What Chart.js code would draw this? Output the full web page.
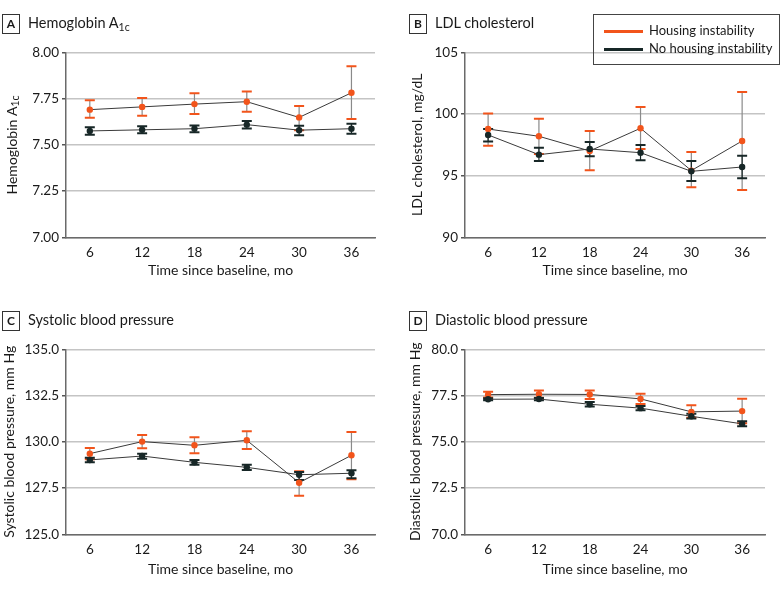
<!DOCTYPE html>
<html>
<head>
<meta charset="utf-8">
<script src="https://cdn.jsdelivr.net/npm/chart.js@4.4.1/dist/chart.umd.min.js"></script>
<style>
    html, body { margin: 0; padding: 0; background: #fff; }
    body { width: 780px; height: 589px; position: relative; overflow: hidden; font-family: Lato, sans-serif; color: #1a1a1a; }
    .panel { position: absolute; }
    .head { position: absolute; font-size: 14.5px; line-height: 20px; white-space: nowrap; }
    .head .tag { display: inline-block; width: 16px; height: 18px; border: 1px solid #333; font-weight: bold; font-size: 12px; line-height: 18px; text-align: center; margin-right: 8px; vertical-align: middle; }
    .head sub { font-size: 10.5px; vertical-align: -3px; line-height: 0; }
    #legend { position: absolute; left: 593px; top: 14px; width: 185px; height: 49px; border: 1px solid #444; font-size: 13px; }
    #legend .row { position: absolute; left: 10px; height: 18px; line-height: 18px; white-space: nowrap; }
    #legend .swatch { display: inline-block; width: 39px; height: 2.5px; vertical-align: middle; margin-right: 6px; }
</style>
</head>
<body>

<canvas id="chartA" class="panel" style="left:0;top:0"></canvas>
<canvas id="chartB" class="panel" style="left:390px;top:0"></canvas>
<canvas id="chartC" class="panel" style="left:0;top:290px"></canvas>
<canvas id="chartD" class="panel" style="left:390px;top:290px"></canvas>

<div class="head" style="left:2px;top:13px"><span class="tag">A</span>Hemoglobin A<sub>1c</sub></div>
<div class="head" style="left:409px;top:13px"><span class="tag">B</span>LDL cholesterol</div>
<div class="head" style="left:2px;top:310px"><span class="tag">C</span>Systolic blood pressure</div>
<div class="head" style="left:409px;top:310px"><span class="tag">D</span>Diastolic blood pressure</div>

<div id="legend">
    <div class="row" style="top:6px"><span class="swatch" style="background:#F2541B"></span>Housing instability</div>
    <div class="row" style="top:24px"><span class="swatch" style="background:#172727"></span>No housing instability</div>
</div>

<script>
// Follow-up times (x axis)
const months = [6, 12, 18, 24, 30, 36];

// A - Hemoglobin A1c (mean, lower and upper limits)
const hbaHousing   = [7.69, 7.705, 7.72, 7.733, 7.648, 7.781];
const hbaHousingLo = [7.646, 7.657, 7.667, 7.679, 7.578, 7.64];
const hbaHousingHi = [7.741, 7.753, 7.779, 7.788, 7.71, 7.925];
const hbaStable    = [7.575, 7.581, 7.587, 7.609, 7.579, 7.587];
const hbaStableLo  = [7.555, 7.563, 7.568, 7.588, 7.552, 7.56];
const hbaStableHi  = [7.595, 7.6, 7.605, 7.629, 7.603, 7.614];

// B - LDL cholesterol
const ldlHousing   = [98.78, 98.19, 97.0, 98.84, 95.41, 97.81];
const ldlHousingLo = [97.43, 96.76, 95.43, 97.16, 94.05, 93.84];
const ldlHousingHi = [100.03, 99.62, 98.62, 100.57, 96.92, 101.78];
const ldlStable    = [98.3, 96.7, 97.16, 96.86, 95.35, 95.7];
const ldlStableLo  = [97.76, 96.19, 96.57, 96.24, 94.57, 94.78];
const ldlStableHi  = [98.78, 97.27, 97.73, 97.49, 96.19, 96.62];

// C - Systolic blood pressure
const sbpHousing   = [129.36, 130.01, 129.81, 130.08, 127.79, 129.27];
const sbpHousingLo = [129.06, 129.65, 129.38, 129.61, 127.09, 127.97];
const sbpHousingHi = [129.66, 130.37, 130.24, 130.57, 128.41, 130.53];
const sbpStable    = [129.02, 129.23, 128.89, 128.62, 128.22, 128.3];
const sbpStableLo  = [128.89, 129.09, 128.76, 128.47, 127.94, 128.03];
const sbpStableHi  = [129.14, 129.36, 129.02, 128.76, 128.37, 128.46];

// D - Diastolic blood pressure
const dbpHousing   = [77.55, 77.57, 77.56, 77.32, 76.62, 76.66];
const dbpHousingLo = [77.39, 77.38, 77.31, 77.04, 76.3, 76.0];
const dbpHousingHi = [77.71, 77.77, 77.77, 77.6, 76.98, 77.33];
const dbpStable    = [77.3, 77.31, 77.03, 76.82, 76.38, 75.97];
const dbpStableLo  = [77.24, 77.25, 76.91, 76.7, 76.26, 75.84];
const dbpStableHi  = [77.36, 77.37, 77.15, 76.94, 76.52, 76.11];

const ORANGE = '#F2541B';
const DARK = '#172727';
const FONT = 'Lato, sans-serif';

/**
 * Draws the vertical CI stems and caps behind the lines and points.
 */
const errorBars = {
    id: 'errorBars',
    beforeDatasetsDraw(chart)
    {
        const ctx = chart.ctx;
        const xs = chart.scales.x, ys = chart.scales.y;
        // highest order first so the dark series ends up on top
        const sets = chart.data.datasets.slice().sort((a, b) => b.order - a.order);
        sets.forEach(ds =>
        {
            ctx.save();
            ds.data.forEach((p, i) =>
            {
                const px = xs.getPixelForValue(p.x);
                const top = ys.getPixelForValue(ds.errHi[i]);
                const bot = ys.getPixelForValue(ds.errLo[i]);
                ctx.strokeStyle = ds.stemColor;
                ctx.lineWidth = 1.2;
                ctx.beginPath();
                ctx.moveTo(px, top);
                ctx.lineTo(px, bot);
                ctx.stroke();
                ctx.strokeStyle = ds.pointBackgroundColor;
                ctx.lineWidth = 2;
                ctx.beginPath();
                ctx.moveTo(px - 5, top); ctx.lineTo(px + 5, top);
                ctx.moveTo(px - 5, bot); ctx.lineTo(px + 5, bot);
                ctx.stroke();
            });
            ctx.restore();
        });
    }
};

/**
 * Y title with a subscript (used for Hemoglobin A1c only).
 */
const subTitle = {
    id: 'subTitle',
    afterDraw(chart, args, opts)
    {
        if (!opts.text) return;
        const ctx = chart.ctx;
        ctx.save();
        ctx.translate(opts.x, opts.y);
        ctx.rotate(-Math.PI / 2);
        ctx.fillStyle = '#1a1a1a';
        ctx.textBaseline = 'middle';
        ctx.font = `14px ${FONT}`;
        const w1 = ctx.measureText(opts.text).width;
        ctx.font = `10.5px ${FONT}`;
        const w2 = ctx.measureText(opts.sub).width;
        const start = -(w1 + w2) / 2;
        ctx.font = `14px ${FONT}`;
        ctx.textAlign = 'left';
        ctx.fillText(opts.text, start, 0);
        ctx.font = `10.5px ${FONT}`;
        ctx.fillText(opts.sub, start + w1, 4);
        ctx.restore();
    }
};

/**
 * Builds one panel.
 */
function CreatePanel(id, p)
{
    const canvas = document.getElementById(id);
    canvas.width = 390;
    canvas.height = p.height;
    canvas.style.width = '390px';
    canvas.style.height = p.height + 'px';

    const toPoints = arr => arr.map((v, i) => ({ x: months[i], y: v }));

    new Chart(canvas.getContext('2d'),
    {
        type: 'line',
        data: {
            datasets: [
                {
                    label: 'Housing instability',
                    data: toPoints(p.housing),
                    errLo: p.housingLo,
                    errHi: p.housingHi,
                    stemColor: '#8a8a8a',
                    borderColor: '#3a3a3a',
                    borderWidth: 1,
                    pointBackgroundColor: ORANGE,
                    pointBorderWidth: 0,
                    pointRadius: 3.2,
                    order: 1
                },
                {
                    label: 'No housing instability',
                    data: toPoints(p.stable),
                    errLo: p.stableLo,
                    errHi: p.stableHi,
                    stemColor: DARK,
                    borderColor: '#3a3a3a',
                    borderWidth: 1,
                    pointBackgroundColor: DARK,
                    pointBorderWidth: 0,
                    pointRadius: 3.2,
                    order: 0
                }
            ]
        },
        options: {
            responsive: false,
            animation: false,
            layout: { padding: { top: p.top, right: p.right, left: 0, bottom: 0 } },
            plugins: {
                legend: { display: false },
                tooltip: { enabled: false },
                subTitle: p.subTitle || {}
            },
            scales: {
                x: {
                    type: 'linear',
                    min: 3.27,
                    max: 38.7,
                    afterBuildTicks: s => { s.ticks = months.map(v => ({ value: v })); },
                    afterFit: s => { s.height = p.height - p.bottom; },
                    grid: { display: false, drawTicks: false },
                    border: { display: true, color: '#6a6a6a', width: 1.5 },
                    ticks: { padding: 7, color: '#1a1a1a', font: { family: FONT, size: 13.5 } },
                    title: {
                        display: true,
                        text: 'Time since baseline, mo',
                        color: '#1a1a1a',
                        font: { family: FONT, size: 14 },
                        padding: { top: 0, bottom: 11 }
                    }
                },
                y: {
                    min: p.yMin,
                    max: p.yMax,
                    afterFit: s => { s.width = p.left; },
                    ticks: {
                        stepSize: p.step,
                        padding: 3,
                        color: '#1a1a1a',
                        font: { family: FONT, size: 13.5 },
                        callback: v => v.toFixed(p.decimals)
                    },
                    grid: { color: '#c4c4c4', lineWidth: 1.5, tickLength: 4, tickColor: '#555' },
                    border: { display: true, color: '#6a6a6a', width: 1.5 },
                    title: {
                        display: !p.subTitle,
                        text: p.yTitle,
                        color: '#1a1a1a',
                        font: { family: FONT, size: 14 },
                        padding: { top: p.titlePad, bottom: 0 }
                    }
                }
            }
        },
        plugins: [errorBars, subTitle]
    });
}

CreatePanel('chartA', {
    height: 290, top: 52.3, bottom: 237.3, left: 66, right: 15,
    yMin: 7, yMax: 8, step: 0.25, decimals: 2,
    housing: hbaHousing, housingLo: hbaHousingLo, housingHi: hbaHousingHi,
    stable: hbaStable, stableLo: hbaStableLo, stableHi: hbaStableHi,
    subTitle: { text: 'Hemoglobin A', sub: '1c', x: 12, y: 145 }
});

CreatePanel('chartB', {
    height: 290, top: 52.3, bottom: 237.3, left: 75, right: 15,
    yMin: 90, yMax: 105, step: 5, decimals: 0,
    housing: ldlHousing, housingLo: ldlHousingLo, housingHi: ldlHousingHi,
    stable: ldlStable, stableLo: ldlStableLo, stableHi: ldlStableHi,
    yTitle: 'LDL cholesterol, mg/dL', titlePad: 19
});

CreatePanel('chartC', {
    height: 299, top: 59.3, bottom: 244.3, left: 66, right: 15,
    yMin: 125, yMax: 135, step: 2.5, decimals: 1,
    housing: sbpHousing, housingLo: sbpHousingLo, housingHi: sbpHousingHi,
    stable: sbpStable, stableLo: sbpStableLo, stableHi: sbpStableHi,
    yTitle: 'Systolic blood pressure, mm Hg', titlePad: 1
});

CreatePanel('chartD', {
    height: 299, top: 59.3, bottom: 244.3, left: 75, right: 15,
    yMin: 70, yMax: 80, step: 2.5, decimals: 1,
    housing: dbpHousing, housingLo: dbpHousingLo, housingHi: dbpHousingHi,
    stable: dbpStable, stableLo: dbpStableLo, stableHi: dbpStableHi,
    yTitle: 'Diastolic blood pressure, mm Hg', titlePad: 17
});
</script>
</body>
</html>
